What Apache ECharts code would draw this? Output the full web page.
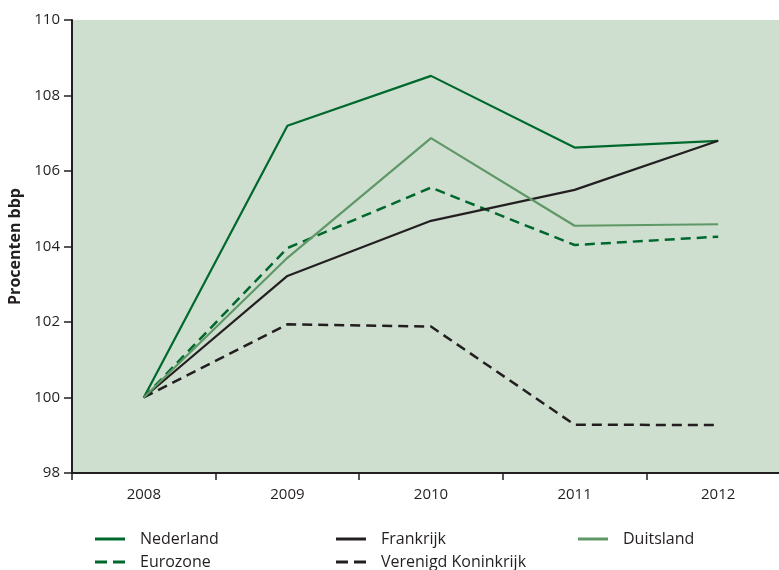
<!DOCTYPE html>
<html>
<head>
<meta charset="utf-8">
<script src="https://cdn.jsdelivr.net/npm/echarts@6/dist/echarts.min.js"></script>
<style>
  html, body { margin: 0; padding: 0; background: #fff; }
  #chart { width: 779px; height: 570px; }
</style>
</head>
<body>
<div id="chart"></div>
<script>
  const years = ['2008', '2009', '2010', '2011', '2012']
  const nederland = [100, 107.2, 108.52, 106.62, 106.8]
  const eurozone = [100, 103.96, 105.56, 104.04, 104.26]
  const frankrijk = [100, 103.22, 104.68, 105.5, 106.8]
  const verenigdKoninkrijk = [100, 101.94, 101.88, 99.28, 99.27]
  const duitsland = [100, 103.7, 106.87, 104.55, 104.59]

  const darkGreen = '#00682c'
  const lightGreen = '#5f9866'
  const black = '#231f20'
  const font = '"Open Sans", "Liberation Sans", Arial, sans-serif'

  // legend icons: a solid bar and two dashes
  const solidIcon = 'path://M0,0h30v3h-30z'
  const dashIcon = 'path://M0,0h12v3h-12zM18,0h12v3h-12z'

  function line(name, data, color, dashed) {
    return {
      type: 'line',
      name: name,
      data: data,
      symbol: 'none',
      silent: true,
      itemStyle: {color: color},
      lineStyle: {
        color: color,
        width: dashed ? 2.5 : 2.2,
        type: dashed ? [10, 6] : 'solid'
      }
    }
  }

  function legend(left, items) {
    return {
      orient: 'vertical',
      left: left,
      top: 531,
      padding: 0,
      itemWidth: 30,
      itemHeight: 3,
      itemGap: 7,
      selectedMode: false,
      textStyle: {fontFamily: font, fontSize: 16, color: black, lineHeight: 16, padding: [0, 0, 0, 10]},
      data: items
    }
  }

  let chart = echarts.init(document.getElementById('chart'), null, {renderer: 'canvas'})
  chart.setOption({
    animation: false,
    textStyle: {fontFamily: font},
    grid: {
      left: 72, top: 20, width: 718, height: 453,
      outerBoundsMode: 'none',
      containLabel: false,
      show: true,
      backgroundColor: '#cedfd0',
      borderWidth: 0
    },
    legend: [
      legend(95, [{name: 'Nederland', icon: solidIcon}, {name: 'Eurozone', icon: dashIcon}]),
      legend(336, [{name: 'Frankrijk', icon: solidIcon}, {name: 'Verenigd Koninkrijk', icon: dashIcon}]),
      legend(578, [{name: 'Duitsland', icon: solidIcon}])
    ],
    xAxis: {
      type: 'category',
      data: years,
      boundaryGap: true,
      axisLine: {lineStyle: {color: black, width: 2}},
      axisTick: {show: true, length: 7, lineStyle: {color: black, width: 1.5}},
      axisLabel: {fontFamily: font, fontSize: 15, color: black, margin: 14}
    },
    yAxis: {
      type: 'value',
      min: 98, max: 110, interval: 2,
      name: 'Procenten bbp',
      nameLocation: 'middle',
      nameGap: 45,
      nameRotate: 90,
      nameTextStyle: {fontFamily: font, fontSize: 16, fontWeight: 'bold', color: black},
      splitLine: {show: false},
      axisLine: {show: true, lineStyle: {color: black, width: 2}},
      axisTick: {show: true, length: 8, lineStyle: {color: black, width: 1.5}},
      axisLabel: {fontFamily: font, fontSize: 15, color: black, margin: 12}
    },
    series: [
      line('Nederland', nederland, darkGreen, false),
      line('Eurozone', eurozone, darkGreen, true),
      line('Frankrijk', frankrijk, black, false),
      line('Verenigd Koninkrijk', verenigdKoninkrijk, black, true),
      line('Duitsland', duitsland, lightGreen, false)
    ]
  })
</script>
</body>
</html>
